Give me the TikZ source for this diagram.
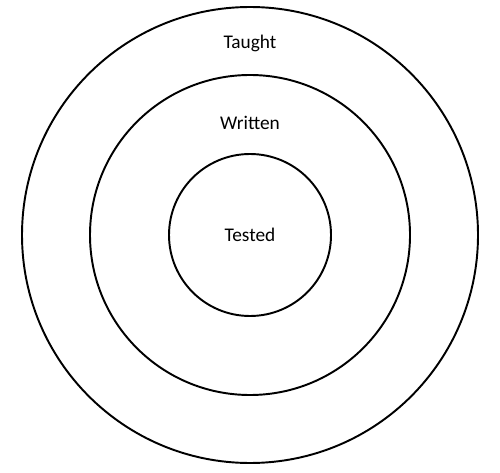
\documentclass[tikz,border=0pt]{standalone}
\usepackage{fontspec}
\setmainfont{Carlito}
\usetikzlibrary{positioning}
\tikzset{
  ring/.style={circle, draw=black, line width=1.1pt, inner sep=0pt},
  ringlabel/.style={inner sep=1pt, font=\fontsize{11}{13}\selectfont}
}
\begin{document}
\begin{tikzpicture}
  \useasboundingbox (0,0) rectangle (10,9.44);
  \node[ring, minimum size=9.12cm] (taughtring) at (5,4.74) {};
  \node[ring, minimum size=6.4cm] (writtenring) at (5,4.74) {};
  \node[ring, minimum size=3.24cm] (testedring) at (5,4.74) {};
  \node[ringlabel] (taught) at (5,8.58) {Taught};
  \node[ringlabel] (written) at (5,6.98) {Written};
  \node[ringlabel] (tested) at (testedring.center) {Tested};
\end{tikzpicture}
\end{document}
